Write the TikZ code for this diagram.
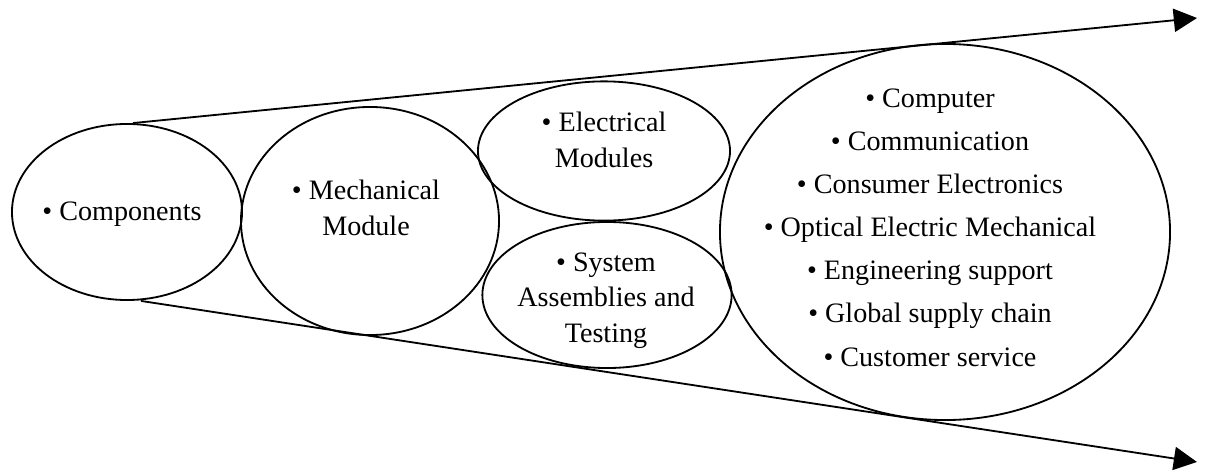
\documentclass[tikz,border=0pt]{standalone}
\usepackage{fontspec}
\setmainfont{Liberation Serif}
\usetikzlibrary{arrows.meta,shapes.geometric}

\begin{document}
\begin{tikzpicture}[x=0.025cm,y=-0.025cm]

	\tikzstyle module ellipse=[draw, ellipse, line width=1.3pt, inner sep=0pt];
	\tikzstyle item text=[align=center, anchor=base, inner sep=0pt, font=\fontsize{20}{25.2}\selectfont];
	\tikzstyle list text=[align=center, anchor=base, inner sep=0pt, font=\fontsize{20}{30.6}\selectfont];
	\tikzstyle flow lines=[line width=1.3pt, -{Triangle[length=5.8mm,width=5.8mm]}];

	\useasboundingbox (0,0) rectangle (1205,473);

	\node[module ellipse, minimum width=5.75cm, minimum height=4.4cm] (comp) at (127,212) {};
	\node[module ellipse, minimum width=6.45cm, minimum height=5.7cm] (mech) at (370,221) {};
	\node[module ellipse, minimum width=6.3cm, minimum height=3.48cm] (elec) at (604,151) {};
	\node[module ellipse, minimum width=6.23cm, minimum height=3.65cm] (sys) at (607,295) {};
	\node[module ellipse, minimum width=11.25cm, minimum height=9.4cm] (markets) at (945,232) {};

	% base anchor sits on the last line
	\node[item text] (comp text) at (122,220) {\textbullet\ Components};
	\node[item text] (mech text) at (366,235) {\textbullet\ Mechanical\\Module};
	\node[item text] (elec text) at (604,167) {\textbullet\ Electrical\\Modules};
	\node[item text] (sys text) at (606,342) {\textbullet\ System\\Assemblies and\\Testing};
	\node[list text] (markets text) at (930,366) {\textbullet\ Computer\\
		\textbullet\ Communication\\
		\textbullet\ Consumer Electronics\\
		\textbullet\ Optical Electric Mechanical\\
		\textbullet\ Engineering support\\
		\textbullet\ Global supply chain\\
		\textbullet\ Customer service};

	\coordinate (top end) at (1197,18);
	\coordinate (bottom end) at (1197,462);
	\draw[flow lines] ([xshift=0.15cm]comp.north) -- (top end);
	\draw[flow lines] ([xshift=0.35cm]comp.south) -- (bottom end);

\end{tikzpicture}
\end{document}
